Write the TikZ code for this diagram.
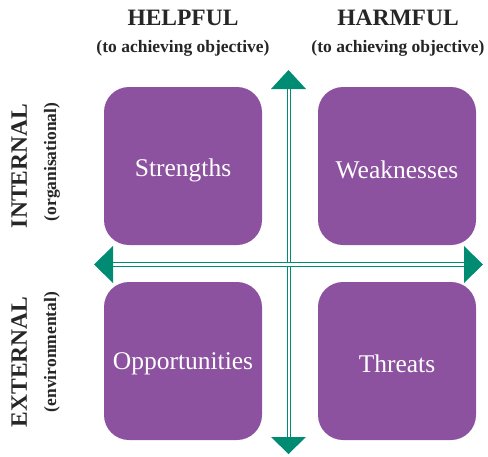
\documentclass[tikz,border=0pt]{standalone}
\usepackage{fontspec}
\setmainfont{Liberation Serif}
\definecolor{swotpurple}{HTML}{8C52A0}
\definecolor{swotgreen}{HTML}{008C73}
\begin{document}
\begin{tikzpicture}[x=1pt,y=-1pt,
  box/.style={fill=swotpurple, rounded corners=25pt, minimum width=158pt, minimum height=158pt, inner sep=0pt},
  boxtext/.style={text=white, font=\fontsize{25.5}{28}\selectfont},
  head/.style={font=\bfseries\fontsize{23.5}{26}\selectfont, text=black!85},
  sub/.style={font=\bfseries\fontsize{17.5}{20}\selectfont, text=black!85},
  dline/.style={draw=swotgreen, line width=1.3pt, double=white, double distance=2.2pt},
  tip/.style={fill=swotgreen, draw=none}]
\useasboundingbox (0,0) rectangle (488,456);
% arrows
\coordinate (vtop) at (289,89);
\coordinate (vbot) at (289,437);
\coordinate (hl) at (113,264.5);
\coordinate (hr) at (464,264.5);
\draw[dline] (vtop) -- (vbot);
\draw[dline] (hl) -- (hr);
\fill[tip] (271,89) -- (288.5,70) -- (306,89) -- cycle;
\fill[tip] (271,437) -- (288.5,454) -- (306,437) -- cycle;
\fill[tip] (113,246) -- (94,264.5) -- (113,283) -- cycle;
\fill[tip] (464,246) -- (483,264.5) -- (464,283) -- cycle;
% boxes
\node[box] (s) at (183,166) {};
\node[box] (w) at (397,166) {};
\node[box] (o) at (183,361) {};
\node[box] (t) at (397,361) {};
\node[boxtext] (sl) at (183,170) {Strengths};
\node[boxtext] (wl) at (397,170) {Weaknesses};
\node[boxtext] (ol) at (183,364) {Opportunities};
\node[boxtext] (tl) at (397,364) {Threats};
% headings
\node[head] (helpful) at (183,18) {HELPFUL};
\node[sub] (helpsub) at (183,48) {(to achieving objective)};
\node[head] (harmful) at (398,18) {HARMFUL};
\node[sub] (harmsub) at (398,48) {(to achieving objective)};
\node[head, rotate=90] (internal) at (19,166) {INTERNAL};
\node[sub, rotate=90] (intsub) at (52,162) {(organisational)};
\node[head, rotate=90] (external) at (19,362) {EXTERNAL};
\node[sub, rotate=90] (extsub) at (52,352) {(environmental)};
\end{tikzpicture}
\end{document}
